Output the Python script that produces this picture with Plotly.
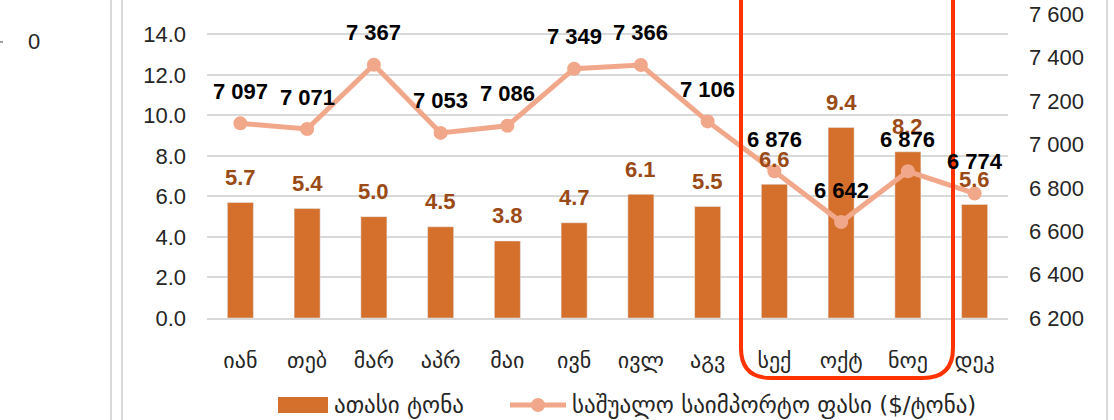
import plotly.graph_objects as go

months = ["იან", "თებ", "მარ", "აპრ", "მაი", "ივნ", "ივლ", "აგვ", "სექ", "ოქტ", "ნოე", "დეკ"]
volume = [5.7, 5.4, 5.0, 4.5, 3.8, 4.7, 6.1, 5.5, 6.6, 9.4, 8.2, 5.6]
price = [7097, 7071, 7367, 7053, 7086, 7349, 7366, 7106, 6876, 6642, 6876, 6774]
bar_name = "ათასი ტონა"
line_name = "საშუალო საიმპორტო ფასი ($/ტონა)"
left_ticks = [0, 2, 4, 6, 8, 10, 12, 14]
right_ticks = [6200, 6400, 6600, 6800, 7000, 7200, 7400, 7600]

W, H = 1114, 420
# plot area in page pixels
L, R, T, B = 207, 1008, 14, 318

def px(x):
    return (x - L) / (R - L)

def py(y):
    return (B - y) / (B - T)

FONT = "Arial, 'Liberation Sans', 'DejaVu Sans', sans-serif"
GEO_FONT = "'DejaVu Sans', Arial, sans-serif"
BAR_C = "#D4702C"
LINE_C = "#F1A78A"
LBL_C = "#9A4A16"
TXT_C = "#262626"
GRID_C = "#D9D9D9"

fig = go.Figure()
fig.add_trace(go.Bar(x=months, y=volume, name=bar_name, marker_color=BAR_C,
                     showlegend=False, yaxis="y"))
fig.add_trace(go.Scatter(x=months, y=price, name=line_name, mode="lines+markers",
                         line=dict(color=LINE_C, width=5),
                         marker=dict(color=LINE_C, size=14),
                         showlegend=False, yaxis="y2"))

annotations = []
for m, v in zip(months, volume):
    annotations.append(dict(x=m, y=v, xref="x", yref="y", text=f"{v:.1f}",
                            showarrow=False, yshift=25,
                            xanchor="center", yanchor="middle",
                            font=dict(family=FONT, size=22, color=LBL_C, weight="bold")))
for m, v in zip(months, price):
    annotations.append(dict(x=m, y=v, xref="x", yref="y2",
                            text=f"{v:,}".replace(",", " "),
                            showarrow=False, yshift=32,
                            xanchor="center", yanchor="middle",
                            font=dict(family=FONT, size=22, color="#000000", weight="bold")))

# stray "0" from neighbouring panel
annotations.append(dict(x=px(34), y=py(42), xref="paper", yref="paper", text="0",
                        showarrow=False, xanchor="center", yanchor="middle",
                        font=dict(family=FONT, size=22, color=TXT_C)))

# custom legend text
annotations.append(dict(x=px(332), y=py(405), xref="paper", yref="paper", text=bar_name,
                        xanchor="left", yanchor="middle", showarrow=False,
                        font=dict(family=GEO_FONT, size=23, color=TXT_C)))
annotations.append(dict(x=px(570), y=py(405), xref="paper", yref="paper", text=line_name,
                        xanchor="left", yanchor="middle", showarrow=False,
                        font=dict(family=GEO_FONT, size=23, color=TXT_C)))

shapes = []
# neighbour panel borders
for xv in (111, 122, 1107):
    shapes.append(dict(type="line", xref="paper", yref="paper",
                       x0=px(xv), x1=px(xv), y0=py(0), y1=py(H),
                       line=dict(color=GRID_C, width=2)))
shapes.append(dict(type="line", xref="paper", yref="paper",
                   x0=px(0), x1=px(3), y0=py(42), y1=py(42),
                   line=dict(color="#A0A0A0", width=2)))
# legend symbols
shapes.append(dict(type="rect", xref="paper", yref="paper",
                   x0=px(278), x1=px(328), y0=py(397), y1=py(413),
                   fillcolor=BAR_C, line=dict(width=0)))
shapes.append(dict(type="line", xref="paper", yref="paper",
                   x0=px(510), x1=px(566), y0=py(405), y1=py(405),
                   line=dict(color=LINE_C, width=5)))
shapes.append(dict(type="circle", xref="paper", yref="paper",
                   x0=px(531), x1=px(545), y0=py(398), y1=py(412),
                   fillcolor=LINE_C, line=dict(width=0)))

# red rounded highlight box
xl, xr, yt, yb, r = 741, 953, -10, 378, 30
path = (f"M {px(xl)},{py(yt)} L {px(xl)},{py(yb - r)} "
        f"Q {px(xl)},{py(yb)} {px(xl + r)},{py(yb)} "
        f"L {px(xr - r)},{py(yb)} "
        f"Q {px(xr)},{py(yb)} {px(xr)},{py(yb - r)} "
        f"L {px(xr)},{py(yt)}")
shapes.append(dict(type="path", xref="paper", yref="paper", path=path,
                   line=dict(color="#FF3300", width=4), layer="above"))

fig.update_layout(
    width=W, height=H,
    margin=dict(l=L, r=W - R, t=T, b=H - B, pad=0),
    paper_bgcolor="white", plot_bgcolor="white",
    separators=". ",
    bargap=0.61,
    showlegend=False,
    font=dict(family=FONT, size=22, color=TXT_C),
    xaxis=dict(type="category", range=[-0.5, 11.5], showgrid=False, showline=True,
               linecolor=GRID_C, linewidth=2, ticks="", ticklabelstandoff=22,
               automargin=False,
               tickfont=dict(family=GEO_FONT, size=22, color=TXT_C)),
    yaxis=dict(range=[0, 15], tickvals=left_ticks, tickformat=".1f",
               showgrid=True, gridcolor=GRID_C, gridwidth=2, zeroline=False,
               ticks="", ticklabelstandoff=20, automargin=False,
               tickfont=dict(family=FONT, size=22, color=TXT_C)),
    yaxis2=dict(range=[6200, 7601], tickvals=right_ticks, tickformat=",d",
                overlaying="y", side="right", showgrid=False, zeroline=False,
                ticks="", ticklabelstandoff=20, automargin=False,
                ticklabeloverflow="allow",
                tickfont=dict(family=FONT, size=22, color=TXT_C)),
    annotations=annotations,
    shapes=shapes,
)

fig.write_html("out.html",
               config={"displayModeBar": False},
               post_script="document.body.style.margin='0';document.body.style.overflow='hidden';")
